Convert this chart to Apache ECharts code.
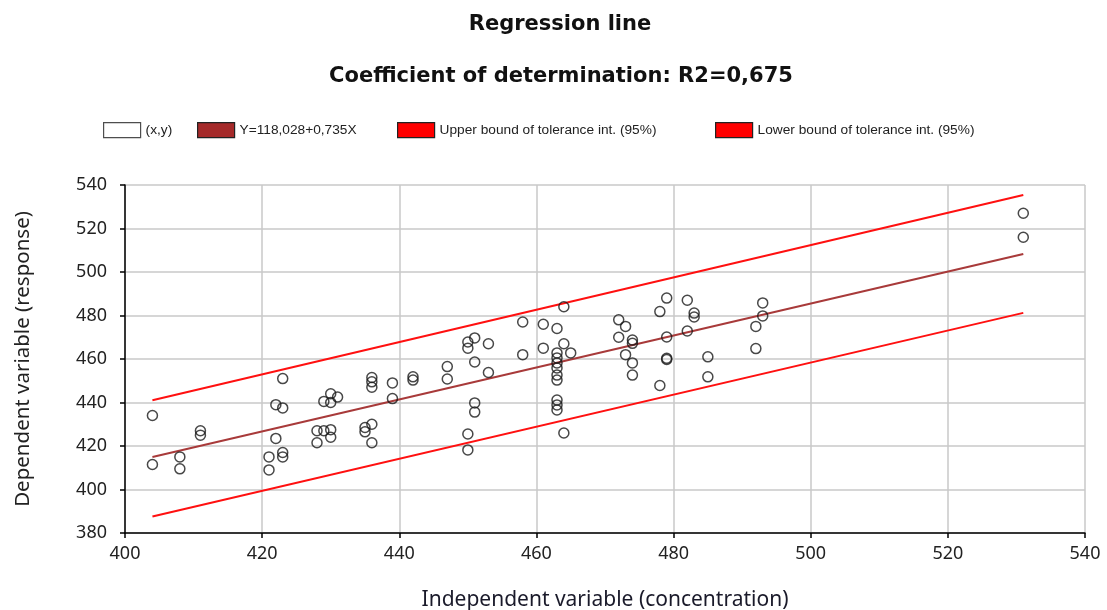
<!DOCTYPE html>
<html>
<head>
<meta charset="utf-8">
<script src="https://cdn.jsdelivr.net/npm/echarts@6/dist/echarts.min.js"></script>
<style>
html,body{margin:0;padding:0;background:#fff;}
#chart{width:1107px;height:610px;}
</style>
</head>
<body>
<div id="chart"></div>
<script>
// Observed (x, y) points
const pointsX = [404,404,408,408,411,411,421,421,422,422,423,423,423,423,
  428,429,430,430,428,429,430,431,430,435,435,436,436,436,436,436,439,439,442,442,
  447,447,450,450,450,450,451,451,451,451,453,453,458,458,461,461,
  463,463,463,463,463,463,463,463,463,463,464,464,464,465,
  472,472,473,473,474,474,474,474,478,478,479,479,479,479,482,482,483,483,485,485,
  492,492,493,493,531,531];
const pointsY = [434,411.5,415,409.5,427,425,415,409,439,423.5,451,437.5,417,415,
  427,427,427.5,424,421.5,440.5,444,442.5,440,428.5,426.5,451.5,449.5,447,430,421.5,449,441.8,451.8,450.3,
  456.5,450.8,467.8,465,425.5,418.2,469.7,458.6,439.8,435.6,467,453.8,477,462,476,465,
  474,462.8,460.5,458.2,455.9,452.6,450.3,441.1,438.9,436.6,484,467,426,462.8,
  478,470,475,462,468.7,467.2,458.2,452.6,481.8,447.8,488,470.1,460.3,459.8,487,472.9,481.1,479.3,461,451.8,
  475,464.8,485.8,479.8,527,516];
// Regression line and tolerance bounds (end points)
const lineX = [404, 531];
const regY = [414.97, 508.31];
const upperY = [441, 535.4];
const lowerY = [387.6, 481.2];
// Axis ticks
const xTicks = {min: 400, max: 540, step: 20};
const yTicks = {min: 380, max: 540, step: 20};
const legendNames = ['(x,y)', 'Y=118,028+0,735X', 'Upper bound of tolerance int. (95%)', 'Lower bound of tolerance int. (95%)'];

const pts = pointsX.map((x, i) => [x, pointsY[i]]);
const toLine = ys => lineX.map((x, i) => [x, ys[i]]);

const chart = echarts.init(document.getElementById('chart'), null, {renderer: 'canvas'});
const legendFont = {fontFamily: 'Liberation Sans', fontSize: 13.7, color: '#222'};
function legendAt(left, name, fill) {
  return {
    left: left, top: 122, itemWidth: 37, itemHeight: 15, padding: 0,
    textStyle: legendFont, selectedMode: false,
    data: [{name: name, icon: 'rect', itemStyle: {color: fill, borderColor: '#222', borderWidth: 1.2}}]
  };
}
const axisFont = {fontFamily: 'Noto Sans', fontSize: 18, color: '#222'};
chart.setOption({
  animation: false,
  backgroundColor: '#fff',
  title: [
    {text: 'Regression line', left: 560, textAlign: 'center', top: 14, padding: 0,
     textStyle: {fontFamily: 'DejaVu Sans', fontWeight: 'bold', fontSize: 21, color: '#111'}},
    {text: 'Coefficient of determination: R2=0,675', left: 561, textAlign: 'center', top: 66, padding: 0,
     textStyle: {fontFamily: 'DejaVu Sans', fontWeight: 'bold', fontSize: 21, color: '#111'}}
  ],
  legend: [
    legendAt(103, legendNames[0], '#ffffff'),
    legendAt(197, legendNames[1], '#a52a2a'),
    legendAt(397, legendNames[2], '#ff0000'),
    legendAt(715, legendNames[3], '#ff0000')
  ],
  grid: {left: 125, right: 22, top: 185, bottom: 77, outerBoundsMode: 'none', containLabel: false},
  xAxis: {
    type: 'value', min: xTicks.min, max: xTicks.max, interval: xTicks.step,
    name: 'Independent variable (concentration)', nameLocation: 'middle', nameGap: 57,
    nameTextStyle: {fontFamily: 'Noto Sans', fontSize: 21, color: '#1a1a2a'},
    axisLine: {show: true, onZero: false, lineStyle: {color: '#000', width: 1.5}},
    axisTick: {show: true, length: 5, lineStyle: {color: '#000', width: 1.5}},
    axisLabel: Object.assign({margin: 12}, axisFont),
    splitLine: {show: true, lineStyle: {color: '#c8c8c8', width: 1.5}}
  },
  yAxis: {
    type: 'value', min: yTicks.min, max: yTicks.max, interval: yTicks.step,
    name: 'Dependent variable (response)', nameLocation: 'middle', nameGap: 91,
    nameTextStyle: {fontFamily: 'Noto Sans', fontSize: 20.5, color: '#222'},
    axisLine: {show: true, onZero: false, lineStyle: {color: '#000', width: 1.5}},
    axisTick: {show: true, length: 5, lineStyle: {color: '#000', width: 1.5}},
    axisLabel: Object.assign({margin: 18}, axisFont),
    splitLine: {show: true, lineStyle: {color: '#c8c8c8', width: 1.5}}
  },
  series: [
    {name: legendNames[0], type: 'scatter', data: pts, symbol: 'circle', symbolSize: 10, z: 5,
     itemStyle: {color: 'rgba(0,0,0,0)', borderColor: '#1a1a1a', borderWidth: 1.5}},
    {name: legendNames[1], type: 'line', data: toLine(regY), showSymbol: false, z: 3,
     itemStyle: {color: '#a52a2a'}, lineStyle: {color: '#a83a3a', width: 2}},
    {name: legendNames[2], type: 'line', data: toLine(upperY), showSymbol: false, z: 3,
     itemStyle: {color: '#ff0000'}, lineStyle: {color: '#ff1010', width: 2}},
    {name: legendNames[3], type: 'line', data: toLine(lowerY), showSymbol: false, z: 3,
     itemStyle: {color: '#ff0000'}, lineStyle: {color: '#ff1010', width: 2}}
  ]
});
</script>
</body>
</html>
